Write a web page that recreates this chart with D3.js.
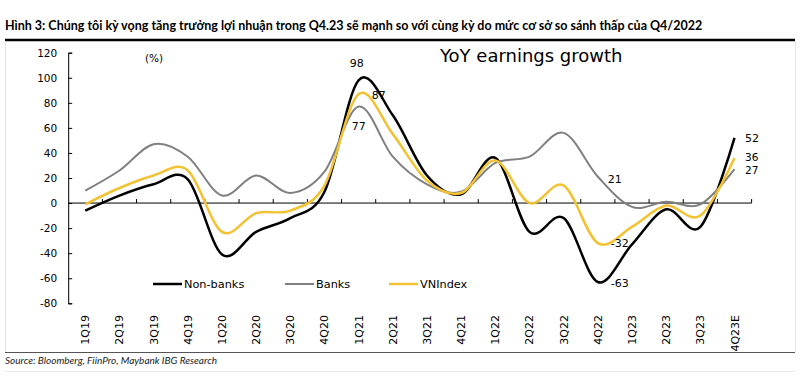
<!DOCTYPE html>
<html><head><meta charset="utf-8">
<script src="https://cdn.jsdelivr.net/npm/d3@7"></script>
<style>body{margin:0;background:#fff}svg{display:block}</style>
</head><body>
<svg id="c" width="800" height="379"></svg>
<script>
const categories = ["1Q19","2Q19","3Q19","4Q19","1Q20","2Q20","3Q20","4Q20","1Q21","2Q21","3Q21","4Q21","1Q22","2Q22","3Q22","4Q22","1Q23","2Q23","3Q23","4Q23E"];
const nonBanks = [-6, 6, 15, 19, -41, -23, -12, 9, 98, 70, 22, 7, 36, -23, -12, -63, -33, -5, -19, 52];
const banks    = [10, 26, 47, 37, 6, 22, 8, 25, 77, 37, 15, 9, 32, 37, 56, 21, -3, 1, -1, 27];
const vnIndex  = [-1, 12, 22, 26, -23, -8, -6, 14, 87, 55, 18, 8, 34, 0, 14, -32, -19, -2, -10, 36];
const yTicks = [-80,-60,-40,-20,0,20,40,60,80,100,120];
const seriesNames = ["Non-banks","Banks","VNIndex"];
const seriesColors = ["#000000","#808080","#f2c232"];
const title = "Hình 3: Chúng tôi kỳ vọng tăng trưởng lợi nhuận trong Q4.23 sẽ mạnh so với cùng kỳ do mức cơ sở so sánh thấp của Q4/2022";
const source = "Source: Bloomberg, FiinPro, Maybank IBG Research";

const svg = d3.select("#c");
const F = "'DejaVu Sans', Verdana, sans-serif";
const fmt = v => String(v);

// frame
svg.append("text").attr("x",5).attr("y",30).attr("font-family","Lato, sans-serif").attr("font-weight","bold")
  .attr("font-size",12.5).attr("fill","#000").text(title);
svg.append("line").attr("x1",5).attr("x2",795).attr("y1",40).attr("y2",40).attr("stroke","#000").attr("stroke-width",2.5);
svg.append("line").attr("x1",5.5).attr("x2",5.5).attr("y1",41).attr("y2",352).attr("stroke","#e4e4e4");
svg.append("line").attr("x1",795.5).attr("x2",795.5).attr("y1",41).attr("y2",352).attr("stroke","#e4e4e4");
svg.append("line").attr("x1",5).attr("x2",795).attr("y1",352.5).attr("y2",352.5).attr("stroke","#555");
svg.append("line").attr("x1",5).attr("x2",795).attr("y1",371.5).attr("y2",371.5).attr("stroke","#e8e8e8");
svg.append("text").attr("x",5).attr("y",364).attr("font-family","Lato, sans-serif").attr("font-style","italic")
  .attr("font-size",9.5).attr("fill","#222").attr("textLength",212).attr("lengthAdjust","spacingAndGlyphs").text(source);

const x = d3.scaleBand().domain(categories).range([68.2, 751.6]).padding(0);
const y = d3.scaleLinear().domain([-80,120]).range([303.3, 52.7]);
const cx = c => x(c) + x.bandwidth()/2;

// y axis
const ya = svg.append("g").attr("transform","translate(68.2,0)")
  .call(d3.axisLeft(y).tickValues(yTicks).tickFormat(fmt).tickSize(-4).tickSizeOuter(-4).tickPadding(11));
ya.selectAll("text").attr("font-family",F).attr("font-size",10.5).attr("fill","#000");
ya.selectAll("path,line").attr("stroke","#000");

// x axis at zero
const xa = svg.append("g").attr("transform",`translate(0,${y(0)})`);
xa.append("line").attr("x1",x.range()[0]).attr("x2",x.range()[1]).attr("stroke","#000");
xa.selectAll("line.t").data(categories).enter().append("line").attr("class","t")
  .attr("x1",(d,i)=>x.range()[0]+(i+1)*x.step()).attr("x2",(d,i)=>x.range()[0]+(i+1)*x.step())
  .attr("y1",0).attr("y2",-4).attr("stroke","#000");
// x labels at bottom
svg.append("g").selectAll("text").data(categories).enter().append("text")
  .attr("transform",d=>`translate(${cx(d)+4},315) rotate(-90)`)
  .attr("text-anchor","end").attr("font-family",F).attr("font-size",11).attr("fill","#000").text(d=>d);

// lines
const line = d3.line().x((d,i)=>cx(categories[i])).y(d=>y(d)).curve(d3.curveCardinal.tension(0));
const data = [nonBanks, banks, vnIndex];
const widths = [2.5, 2, 2.5];
data.forEach((s,k)=>{
  svg.append("path").datum(s).attr("d",line).attr("fill","none").attr("stroke",seriesColors[k]).attr("stroke-width",widths[k]);
});

// labels
const lab = (txt, xx, yy, anchor, fs) => svg.append("text").attr("x",xx).attr("y",yy).attr("text-anchor",anchor||"middle")
  .attr("font-family",F).attr("font-size",fs||11).attr("fill","#000").text(fmt(txt));
lab(nonBanks[8], cx("1Q21")-2, 67);
lab(vnIndex[8], cx("1Q21")+20, 99);
lab(banks[8], cx("1Q21")+0, 130);
lab(banks[15], cx("4Q22")+17, 183);
lab(vnIndex[15], cx("4Q22")+22, 247);
lab(nonBanks[15], cx("4Q22")+22, 287);
lab(nonBanks[19], 745, 142, "start");
lab(vnIndex[19], 745, 161, "start", 10.5);
lab(banks[19], 745, 174, "start", 10.5);

// chart title
svg.append("text").attr("x",440).attr("y",62).attr("font-family",F).attr("font-size",18).attr("fill","#000").text("YoY earnings growth");
svg.append("text").attr("x",145).attr("y",62).attr("font-family",F).attr("font-size",10.5).attr("fill","#000").text("(%)");

// legend
const legX = [153, 285, 389];
seriesNames.forEach((n,k)=>{
  svg.append("line").attr("x1",legX[k]).attr("x2",legX[k]+29).attr("y1",284).attr("y2",284)
    .attr("stroke",seriesColors[k]).attr("stroke-width",widths[k]);
  svg.append("text").attr("x",legX[k]+31).attr("y",288).attr("font-family",F).attr("font-size",11.3).attr("fill","#000").text(n);
});
</script>
</body></html>
